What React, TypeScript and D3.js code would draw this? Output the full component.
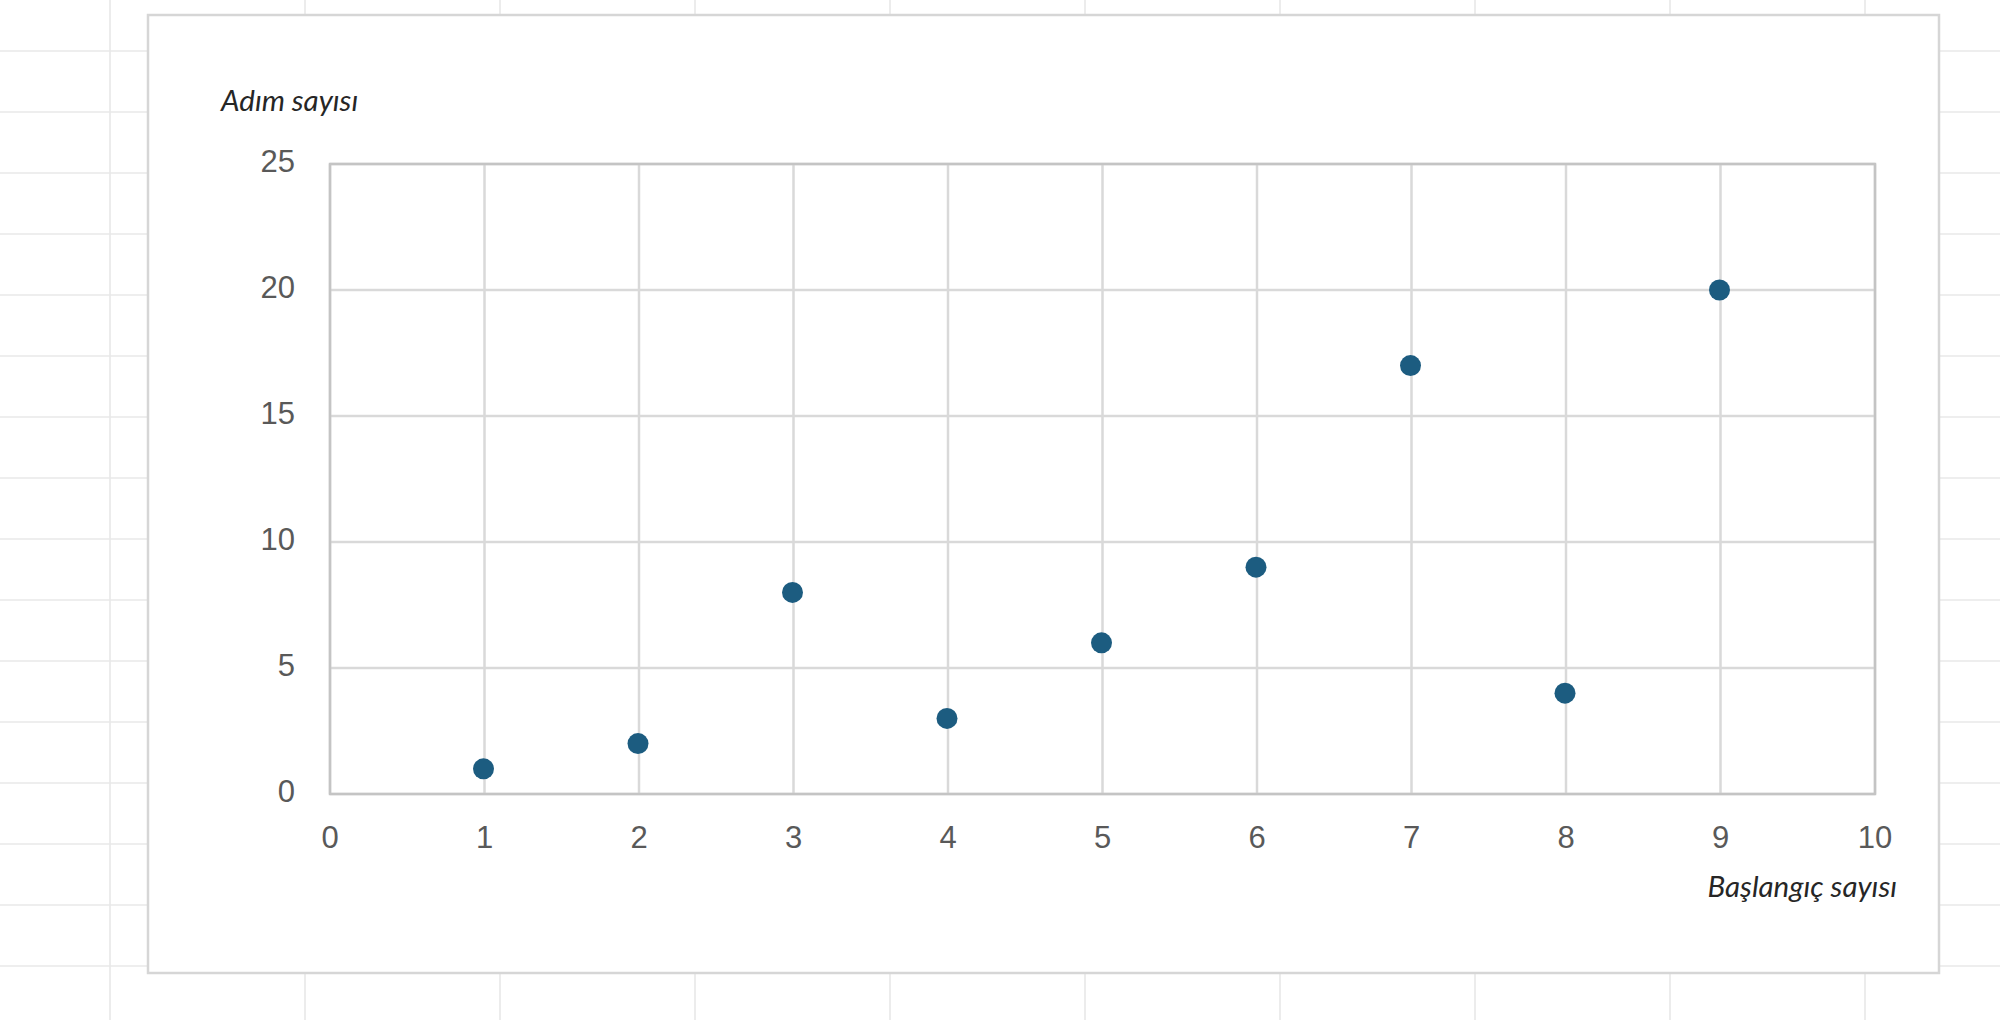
import React from "react";
import * as d3 from "d3";

const xValues: number[] = [1, 2, 3, 4, 5, 6, 7, 8, 9];
const yValues: number[] = [1, 2, 8, 3, 6, 9, 17, 4, 20];
const xTicks: number[] = [0, 1, 2, 3, 4, 5, 6, 7, 8, 9, 10];
const yTicks: number[] = [0, 5, 10, 15, 20, 25];
const xTitle = "Başlangıç sayısı";
const yTitle = "Adım sayısı";

const W = 2000;
const H = 1020;
const plot = { left: 330, right: 1875, top: 164, bottom: 794 };
const frame = { left: 148, top: 15, right: 1939, bottom: 973 };

const pageCols = d3.range(0, 10).map((k) => 110 + 195 * k);
const pageRows = d3.range(0, 17).map((k) => 51 + 61 * k);

export default function App() {
  const x = d3.scaleLinear().domain([0, 10]).range([plot.left, plot.right]);
  const y = d3.scaleLinear().domain([0, 25]).range([plot.bottom, plot.top]);
  const tickFont = "'Liberation Sans', Arial, sans-serif";
  const titleFont = "Lato, 'Open Sans', sans-serif";

  return (
    <svg
      width={W}
      height={H}
      style={{ position: "absolute", left: 0, top: 0, background: "#ffffff" }}
    >
      {/* spreadsheet background grid */}
      <g stroke="#e8e8e8" strokeWidth={1.6}>
        {pageCols.map((c) => (
          <line key={"c" + c} x1={c} x2={c} y1={0} y2={H} />
        ))}
        {pageRows.map((r) => (
          <line key={"r" + r} x1={0} x2={W} y1={r} y2={r} />
        ))}
      </g>

      {/* chart frame */}
      <rect
        x={frame.left}
        y={frame.top}
        width={frame.right - frame.left}
        height={frame.bottom - frame.top}
        fill="#ffffff"
        stroke="#d6d6d6"
        strokeWidth={2.5}
      />

      {/* gridlines */}
      <g stroke="#d9d9d9" strokeWidth={2.5}>
        {xTicks.map((t) => (
          <line key={"gx" + t} x1={x(t)} x2={x(t)} y1={plot.top} y2={plot.bottom} />
        ))}
        {yTicks.map((t) => (
          <line key={"gy" + t} x1={plot.left} x2={plot.right} y1={y(t)} y2={y(t)} />
        ))}
      </g>
      {/* plot border (axes) */}
      <rect
        x={plot.left}
        y={plot.top}
        width={plot.right - plot.left}
        height={plot.bottom - plot.top}
        fill="none"
        stroke="#c4c4c4"
        strokeWidth={2.5}
      />

      {/* y tick labels */}
      <g fontFamily={tickFont} fontSize={31} fill="#595959" textAnchor="end">
        {yTicks.map((t) => (
          <text key={"ly" + t} x={plot.left - 35} y={y(t) + 8}>
            {t}
          </text>
        ))}
      </g>
      {/* x tick labels */}
      <g fontFamily={tickFont} fontSize={31} fill="#595959" textAnchor="middle">
        {xTicks.map((t) => (
          <text key={"lx" + t} x={x(t)} y={848}>
            {t}
          </text>
        ))}
      </g>

      {/* axis titles */}
      <text
        x={221}
        y={111}
        fontFamily={titleFont}
        fontStyle="italic"
        fontSize={29.5}
        fill="#262626"
      >
        {yTitle}
      </text>
      <text
        x={1897}
        y={897}
        fontFamily={titleFont}
        fontStyle="italic"
        fontSize={29.5}
        fill="#262626"
        textAnchor="end"
      >
        {xTitle}
      </text>

      {/* points */}
      <g fill="#1c5c80">
        {xValues.map((v, i) => (
          <circle key={"p" + i} cx={x(v) - 1} cy={y(yValues[i])} r={10.5} />
        ))}
      </g>
    </svg>
  );
}
